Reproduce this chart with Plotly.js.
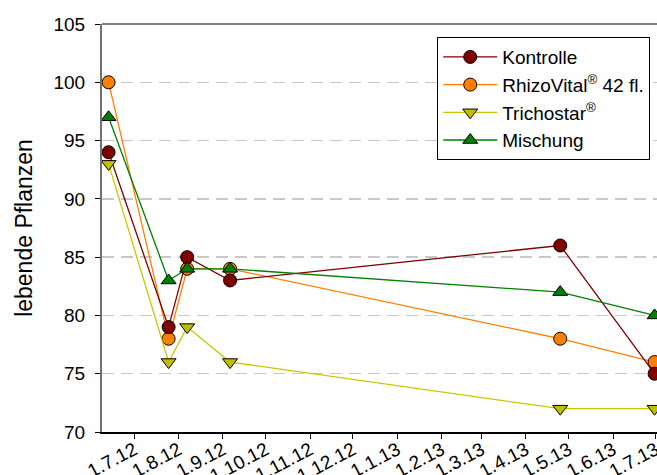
<!DOCTYPE html>
<html>
<head>
<meta charset="utf-8">
<script src="https://cdn.plot.ly/plotly-3.0.1.min.js"></script>
<style>html,body{margin:0;padding:0;background:#fff;}#chart{width:657px;height:475px;}</style>
</head>
<body>
<div id="chart"></div>
<script>
// Sampling dates
const dates = ['2012-06-13', '2012-07-25', '2012-08-07', '2012-09-06', '2013-04-25', '2013-06-30'];
// Series values (living plants)
const kontrolle  = [94, 79, 85, 83, 86, 75];
const rhizovital = [100, 78, 84, 84, 78, 76];
const trichostar = [93, 76, 79, 76, 72, 72];
const mischung   = [97, 83, 84, 84, 82, 80];
// Tick labels
const tickDates = ['2012-07-01','2012-08-01','2012-09-01','2012-10-01','2012-11-01','2012-12-01',
                   '2013-01-01','2013-02-01','2013-03-01','2013-04-01','2013-05-01','2013-06-01','2013-07-01'];
const tickLabels = ['1.7.12','1.8.12','1.9.12','1.10.12','1.11.12','1.12.12',
                    '1.1.13','1.2.13','1.3.13','1.4.13','1.5.13','1.6.13','1.7.13'];
const yTicks = [70, 75, 80, 85, 90, 95, 100, 105];

function tr(name, y, lineColor, fill, symbol, rank) {
  return {
    type: 'scatter', mode: 'lines+markers', x: dates, y: y, name: name,
    legendrank: rank, cliponaxis: true,
    line: {color: lineColor, width: 1.3},
    marker: {symbol: symbol, size: 13, color: fill, line: {color: '#000', width: 1}}
  };
}

const traces = [
  tr('RhizoVital<sup>®</sup> 42 fl.', rhizovital, '#FF8000', '#FF8000', 'circle', 2),
  tr('Kontrolle', kontrolle, '#800000', '#800000', 'circle', 1),
  tr('Trichostar<sup>®</sup>', trichostar, '#C8C800', '#BFBF00', 'triangle-down', 3),
  tr('Mischung', mischung, '#008000', '#008000', 'triangle-up', 4)
];

const layout = {
  width: 657, height: 475,
  margin: {l: 102, r: 0, t: 24, b: 43},
  paper_bgcolor: '#fff', plot_bgcolor: '#fff',
  font: {family: 'Liberation Sans, Arial, sans-serif', color: '#000'},
  showlegend: true,
  legend: {
    x: 0.604, y: 0.968, xanchor: 'left', yanchor: 'top',
    bgcolor: '#fff', bordercolor: '#000', borderwidth: 1,
    font: {size: 19, family: 'Liberation Sans, Arial, sans-serif'},
    itemwidth: 54
  },
  xaxis: {
    type: 'date',
    range: ['2012-06-08 09:30', '2013-07-01 17:00'],
    tickmode: 'array', tickvals: tickDates, ticktext: tickLabels,
    tickangle: -28,
    tickfont: {size: 19},
    ticks: 'outside', ticklen: 5, tickcolor: '#000', tickwidth: 1,
    ticklabelstandoff: -7,
    ticklabeloverflow: 'allow',
    showline: true, linecolor: '#000', linewidth: 1.5,
    showgrid: false, zeroline: false
  },
  yaxis: {
    range: [70, 105],
    tickmode: 'array', tickvals: yTicks,
    tickfont: {size: 19},
    ticks: 'outside', ticklen: 5, tickcolor: '#000', tickwidth: 1,
    ticklabelstandoff: 6,
    showline: true, linecolor: '#707070', linewidth: 2,
    showgrid: true, gridcolor: '#c8c8c8', gridwidth: 1.5, griddash: '12px,7px',
    zeroline: false,
    title: {text: 'lebende Pflanzen', font: {size: 23}, standoff: 14}
  },
  shapes: [
    {type: 'line', xref: 'paper', yref: 'paper', x0: 0, x1: 1, y0: 1, y1: 1,
     line: {color: '#000', width: 1.2}}
  ]
};

Plotly.newPlot('chart', traces, layout, {displayModeBar: false, staticPlot: true});
</script>
</body>
</html>
